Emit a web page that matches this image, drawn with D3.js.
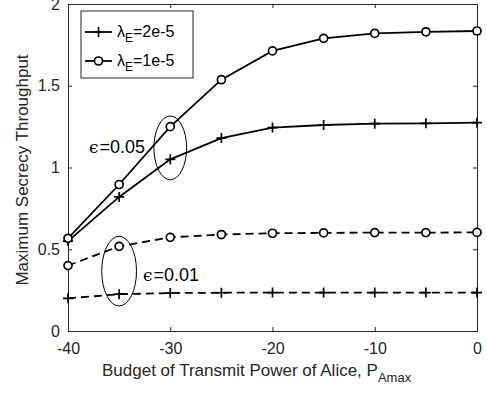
<!DOCTYPE html>
<html>
<head>
<meta charset="utf-8">
<script src="https://cdn.jsdelivr.net/npm/d3@7"></script>
<style>
body { margin: 0; background: #fff; }
text { font-family: "Liberation Sans", Arial, sans-serif; }
</style>
</head>
<body>
<div id="chart"></div>
<script>
// data
var power = [-40, -35, -30, -25, -20, -15, -10, -5, 0];
var plus005 = [0.55, 0.82, 1.05, 1.18, 1.244, 1.26, 1.268, 1.27, 1.274];
var circ005 = [0.567, 0.896, 1.25, 1.537, 1.713, 1.79, 1.82, 1.83, 1.835];
var circ001 = [0.40, 0.518, 0.573, 0.59, 0.598, 0.60, 0.602, 0.602, 0.603];
var plus001 = [0.20, 0.225, 0.232, 0.234, 0.235, 0.235, 0.235, 0.235, 0.235];
var xTicks = [-40, -30, -20, -10, 0];
var yTicks = [0, 0.5, 1, 1.5, 2];

var margin = { top: 4, right: 10, bottom: 63, left: 68 },
	width = 487 - margin.left - margin.right,
	height = 394 - margin.top - margin.bottom;

var svg = d3.select("#chart")
	.append("svg")
	.attr("width", 487)
	.attr("height", 394)
	.append("g")
	.attr("transform", "translate(" + margin.left + "," + margin.top + ")");

var x = d3.scaleLinear().domain([-40, 0]).range([0, width]);
var y = d3.scaleLinear().domain([0, 2]).range([height, 0]);

var axisColor = "#262626";

// axes (MATLAB style, ticks inward, box)
var gx = svg.append("g")
	.attr("transform", "translate(0," + height + ")")
	.call(d3.axisBottom(x).tickValues(xTicks).tickSize(-4).tickPadding(9).tickFormat(function (d) { return String(d); }));
var gy = svg.append("g")
	.call(d3.axisLeft(y).tickValues(yTicks).tickSize(-4).tickPadding(8).tickFormat(function (d) { return d; }));
var gxt = svg.append("g")
	.call(d3.axisTop(x).tickValues(xTicks).tickSize(-4).tickFormat(""));
var gyr = svg.append("g")
	.attr("transform", "translate(" + width + ",0)")
	.call(d3.axisRight(y).tickValues(yTicks).tickSize(-4).tickFormat(""));

[gx, gy, gxt, gyr].forEach(function (g) {
	g.selectAll("path, line").attr("stroke", axisColor).attr("stroke-width", 1);
	g.selectAll("text").attr("fill", axisColor).style("font-size", "16px");
});
gx.selectAll(".tick text").attr("dy", "0.85em");

var series = [
	{ vals: plus005, marker: "plus", dash: null },
	{ vals: circ005, marker: "circle", dash: null },
	{ vals: circ001, marker: "circle", dash: "8,5" },
	{ vals: plus001, marker: "plus", dash: "8,5" }
];

var line = d3.line()
	.x(function (d, i) { return x(power[i]); })
	.y(function (d) { return y(d); });

series.forEach(function (s) {
	svg.append("path")
		.datum(s.vals)
		.attr("d", line)
		.attr("fill", "none")
		.attr("stroke", "#000")
		.attr("stroke-width", 1.8)
		.attr("stroke-dasharray", s.dash);

	var m = svg.selectAll(null)
		.data(s.vals)
		.enter();
	if (s.marker === "circle") {
		m.append("circle")
			.attr("cx", function (d, i) { return x(power[i]); })
			.attr("cy", function (d) { return y(d); })
			.attr("r", 4)
			.attr("fill", "#fff")
			.attr("stroke", "#000")
			.attr("stroke-width", 1.7);
	} else {
		m.append("path")
			.attr("d", function (d, i) {
				var cx = x(power[i]), cy = y(d);
				return "M" + (cx - 5) + "," + cy + "H" + (cx + 5) + "M" + cx + "," + (cy - 5) + "V" + (cy + 5);
			})
			.attr("stroke", "#000")
			.attr("stroke-width", 1.7);
	}
});

// ellipses marking the epsilon groups
var ellipses = [
	{ cx: -30, cy: 1.12, rx: 1.6, ry: 0.195 },
	{ cx: -35, cy: 0.366, rx: 1.7, ry: 0.213 }
];
svg.selectAll(".ell")
	.data(ellipses)
	.enter()
	.append("ellipse")
	.attr("cx", function (d) { return x(d.cx); })
	.attr("cy", function (d) { return y(d.cy); })
	.attr("rx", function (d) { return x(d.cx + d.rx) - x(d.cx); })
	.attr("ry", function (d) { return y(0) - y(d.ry); })
	.attr("fill", "none")
	.attr("stroke", "#000")
	.attr("stroke-width", 1);

function epsLabel(px, py, txt) {
	var t = svg.append("text")
		.attr("x", px - margin.left)
		.attr("y", py - margin.top)
		.style("font-size", "18px");
	t.append("tspan").style("font-family", "DejaVu Serif").style("font-size", "17px").text("\u03F5");
	t.append("tspan").attr("dx", 1).text(txt);
}
epsLabel(89, 153, "=0.05");
epsLabel(143, 281, "=0.01");

// legend
var lg = svg.append("g").attr("transform", "translate(" + (81 - margin.left) + "," + (11 - margin.top) + ")");
lg.append("rect")
	.attr("width", 112)
	.attr("height", 67)
	.attr("fill", "#fff")
	.attr("stroke", axisColor)
	.attr("stroke-width", 1);
var legendItems = [
	{ label: "2e-5", marker: "plus", yy: 21 },
	{ label: "1e-5", marker: "circle", yy: 50 }
];
legendItems.forEach(function (d) {
	lg.append("line")
		.attr("x1", 4).attr("x2", 31)
		.attr("y1", d.yy).attr("y2", d.yy)
		.attr("stroke", "#000").attr("stroke-width", 1.8);
	if (d.marker === "circle") {
		lg.append("circle").attr("cx", 17.5).attr("cy", d.yy).attr("r", 4)
			.attr("fill", "#fff").attr("stroke", "#000").attr("stroke-width", 1.7);
	} else {
		lg.append("path")
			.attr("d", "M12.5," + d.yy + "H22.5M17.5," + (d.yy - 5) + "V" + (d.yy + 5))
			.attr("stroke", "#000").attr("stroke-width", 1.7);
	}
	var t = lg.append("text").attr("x", 36).attr("y", d.yy + 5).style("font-size", "16px");
	t.append("tspan").text("\u03BB");
	t.append("tspan").attr("dy", 5).style("font-size", "12px").text("E");
	t.append("tspan").attr("dy", -5).text("=" + d.label);
});

// axis labels
var xl = svg.append("text")
	.attr("x", 102 - margin.left)
	.attr("y", 376 - margin.top)
	.attr("fill", axisColor)
	.style("font-size", "17px");
xl.append("tspan").text("Budget of Transmit Power of Alice, P");
xl.append("tspan").attr("dy", 6).style("font-size", "13px").text("Amax");

svg.append("text")
	.attr("transform", "translate(" + (28 - margin.left) + "," + (170 - margin.top) + ") rotate(-90)")
	.attr("text-anchor", "middle")
	.attr("fill", axisColor)
	.style("font-size", "17px")
	.text("Maximum Secrecy Throughput");
</script>
</body>
</html>
